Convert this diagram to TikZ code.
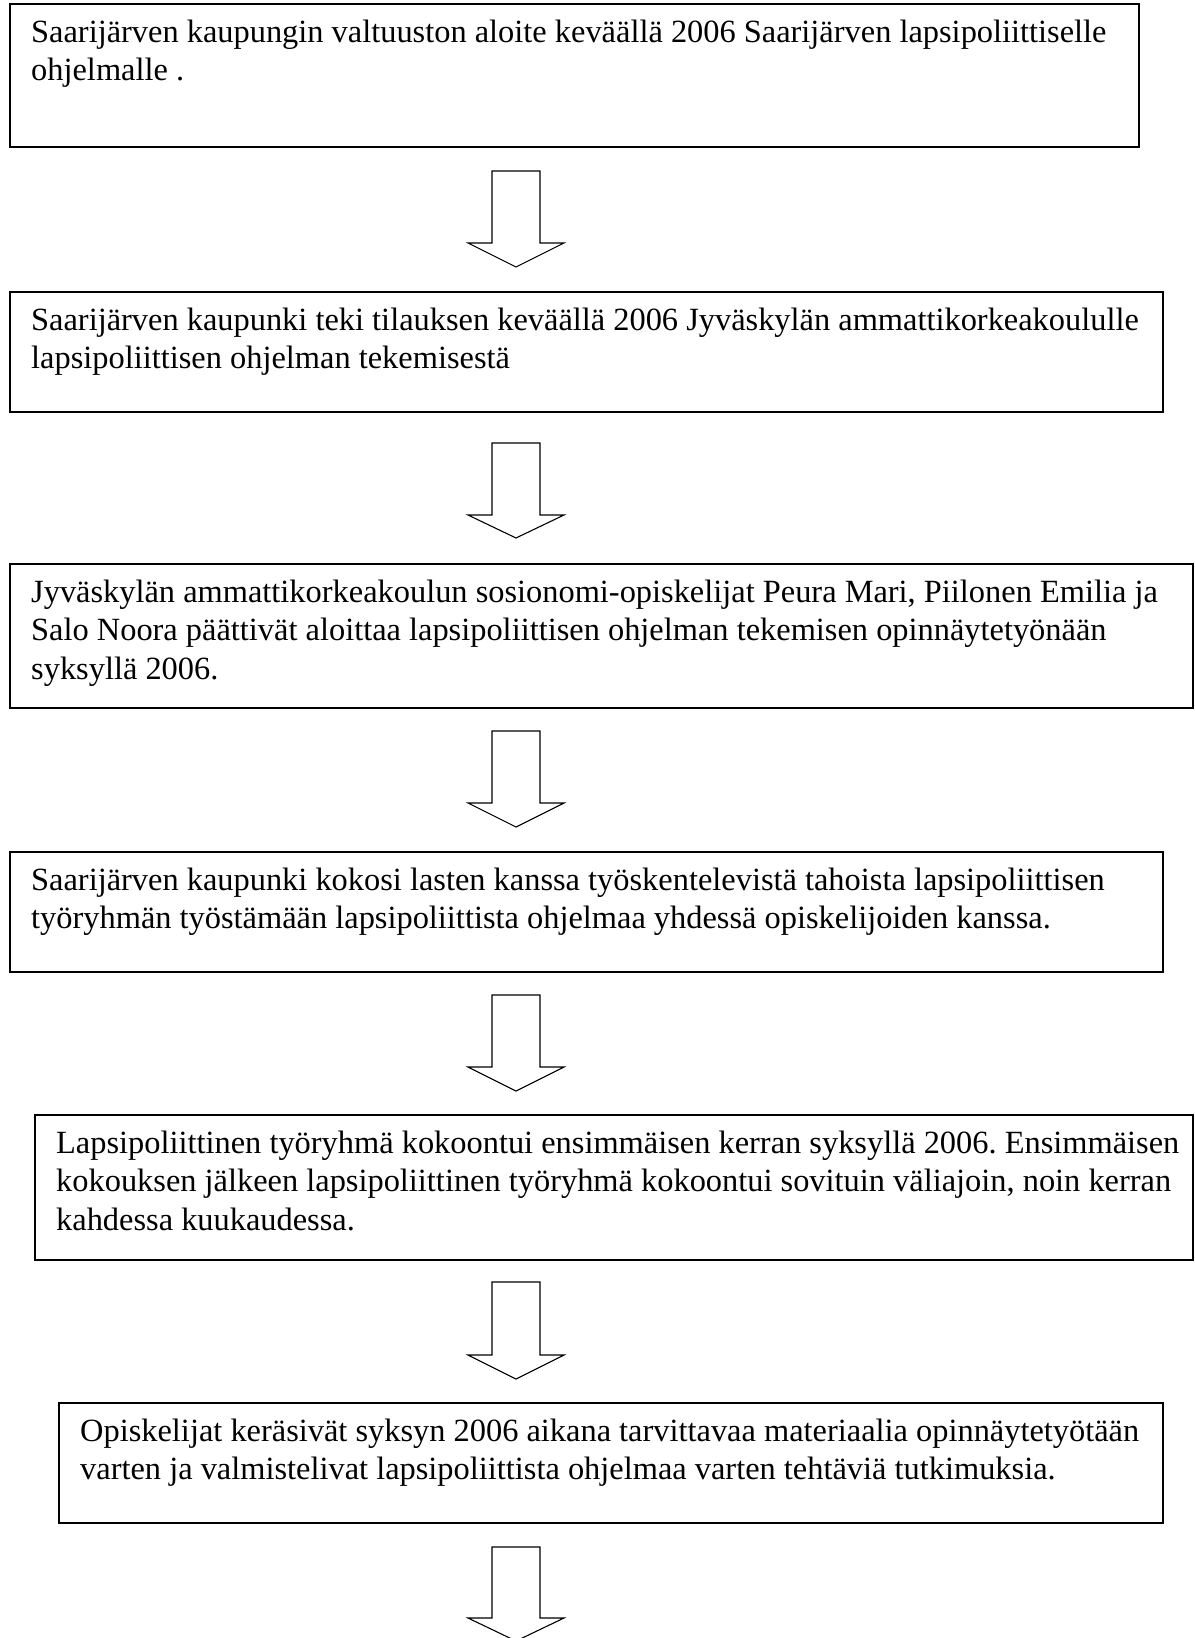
\documentclass[tikz,border=0pt]{standalone}
\usepackage{fontspec}
\setmainfont{Liberation Serif}
\begin{document}
\frenchspacing
\begin{tikzpicture}[x=1pt,y=-1pt,
  box/.style={draw=black,line width=1.8pt,rectangle,inner sep=0pt,anchor=north west},
  txt/.style={anchor=north west,inner sep=0pt,align=left,font=\fontsize{32.4}{38.6}\selectfont\frenchspacing},
  blockarrow/.style={draw=black,line width=1.1pt,fill=white,line join=miter}]
\useasboundingbox (0,0) rectangle (1194,1638);
\fill[white] (0,0) rectangle (1194,1638);
% boxes
\node[box,minimum width=1129pt,minimum height=143pt] (b1) at (9,3) {};
\node[box,minimum width=1153pt,minimum height=120pt] (b2) at (9,291) {};
\node[box,minimum width=1183pt,minimum height=144pt] (b3) at (9,563) {};
\node[box,minimum width=1153pt,minimum height=120pt] (b4) at (9,851) {};
\node[box,minimum width=1158pt,minimum height=145pt] (b5) at (34,1114) {};
\node[box,minimum width=1104pt,minimum height=120pt] (b6) at (58,1402) {};
% texts
\node[txt] (t1) at ([xshift=22pt,yshift=-12pt]b1.north west) {\strut Saarijärven kaupungin valtuuston aloite keväällä 2006 Saarijärven lapsipoliittiselle\\ohjelmalle .};
\node[txt] (t2) at ([xshift=22pt,yshift=-12pt]b2.north west) {\strut Saarijärven kaupunki teki tilauksen keväällä 2006 Jyväskylän ammattikorkeakoululle\\lapsipoliittisen ohjelman tekemisestä};
\node[txt] (t3) at ([xshift=22pt,yshift=-12pt]b3.north west) {\strut Jyväskylän ammattikorkeakoulun sosionomi-opiskelijat Peura Mari, Piilonen Emilia ja\\Salo Noora päättivät aloittaa lapsipoliittisen ohjelman tekemisen opinnäytetyönään\\syksyllä 2006.};
\node[txt] (t4) at ([xshift=22pt,yshift=-12pt]b4.north west) {\strut Saarijärven kaupunki kokosi lasten kanssa työskentelevistä tahoista lapsipoliittisen\\työryhmän työstämään lapsipoliittista ohjelmaa yhdessä opiskelijoiden kanssa.};
\node[txt] (t5) at ([xshift=22pt,yshift=-12pt]b5.north west) {\strut Lapsipoliittinen työryhmä kokoontui ensimmäisen kerran syksyllä 2006. Ensimmäisen\\kokouksen jälkeen lapsipoliittinen työryhmä kokoontui sovituin väliajoin, noin kerran\\kahdessa kuukaudessa.};
\node[txt] (t6) at ([xshift=22pt,yshift=-12pt]b6.north west) {\strut Opiskelijat keräsivät syksyn 2006 aikana tarvittavaa materiaalia opinnäytetyötään\\varten ja valmistelivat lapsipoliittista ohjelmaa varten tehtäviä tutkimuksia.};
% block arrows: top of shaft, wing level, tip
\foreach \n/\ya/\yb/\yc in {a1/171/243/267, a2/443/515/538, a3/731/803/827, a4/995/1067/1091, a5/1282/1355/1379, a6/1547/1618/1641}{
  \coordinate (\n top) at (516,\ya);
  \coordinate (\n tip) at (516,\yc);
  \draw[blockarrow] ([xshift=-24pt]\n top) -- ([xshift=24pt]\n top) -- (540,\yb) -- (564,\yb) -- (\n tip) -- (468,\yb) -- (492,\yb) -- cycle;
}
\end{tikzpicture}
\end{document}
